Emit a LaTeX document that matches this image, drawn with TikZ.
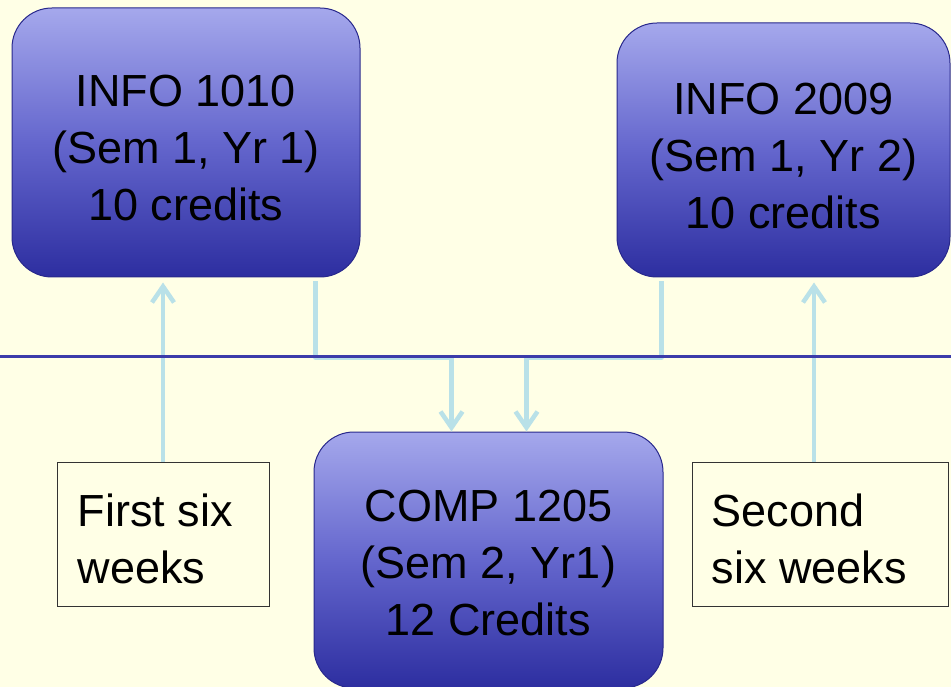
\documentclass[tikz,border=0pt]{standalone}
\usepackage{fontspec}
\setmainfont{Liberation Sans}
\usetikzlibrary{arrows.meta}
\definecolor{bgyellow}{RGB}{255,255,230}
\definecolor{boxtop}{RGB}{165,168,236}
\definecolor{boxmid}{RGB}{100,102,205}
\definecolor{boxbot}{RGB}{45,46,160}
\definecolor{boxedge}{RGB}{40,40,140}
\definecolor{connblue}{RGB}{185,225,232}
\definecolor{ruleblue}{RGB}{60,60,170}
\tikzset{
  course/.style={rectangle, rounded corners=40pt, draw=boxedge, line width=1pt,
    top color=boxtop, bottom color=boxbot, middle color=boxmid, inner sep=0pt},
  coursetext/.style={align=center, inner sep=0pt, font=\fontsize{45}{57}\selectfont},
  notebox/.style={rectangle, draw=black!80, line width=0.8pt, fill=bgyellow, inner sep=0pt},
  notetext/.style={align=left, inner sep=0pt, anchor=west, font=\fontsize{45}{57}\selectfont},
  conn/.style={draw=connblue, line width=4.5pt, line join=round,
    -{Straight Barb[length=16pt,width=22pt]}},
}
\begin{document}
\begin{tikzpicture}[x=1pt,y=-1pt]
\useasboundingbox (0,0) rectangle (951,687);
\fill[bgyellow] (0,0) rectangle (951,687);

\node[course, minimum width=348pt, minimum height=269pt] (A) at (186,142.5) {};
\node[coursetext] (Atext) at ([yshift=-6pt]A.center) {INFO 1010\\(Sem 1, Yr 1)\\10 credits};
\node[course, minimum width=333pt, minimum height=254pt] (B) at (783.5,150) {};
\node[coursetext] (Btext) at ([yshift=-6pt]B.center) {INFO 2009\\(Sem 1, Yr 2)\\10 credits};
\node[course, minimum width=349pt, minimum height=256pt] (C) at (488.5,560) {};
\node[coursetext] (Ctext) at ([yshift=-3pt]C.center) {COMP 1205\\(Sem 2, Yr1)\\12 Credits};

\node[notebox, minimum width=212pt, minimum height=144pt] (T1) at (163,534) {};
\node[notetext] (T1text) at ([xshift=21pt,yshift=-5pt]T1.west) {First six\\weeks};
\node[notebox, minimum width=256pt, minimum height=144pt] (T2) at (820,534) {};
\node[notetext] (T2text) at ([xshift=20pt,yshift=-5pt]T2.west) {Second\\six weeks};

\coordinate (t2) at ([xshift=-6pt]T2.north);
\draw[conn] (T1.north) -- ([yshift=-5pt]T1.north |- A.south);
\draw[conn] (t2) -- ([yshift=-5pt]t2 |- B.south);

\coordinate (a1) at ([xshift=-45pt,yshift=-4pt]A.south east);
\coordinate (b1) at ([xshift=45pt,yshift=-4pt]B.south west);
\draw[conn] (a1) -- ++(0,76) -| ([xshift=-37pt]C.north);
\draw[conn] (b1) -- ++(0,76) -| ([xshift=38pt]C.north);

\coordinate (L) at (0,356.3);
\coordinate (R) at (951,356.3);
\draw[ruleblue, line width=2.4pt] (L) -- (R);
\end{tikzpicture}
\end{document}
